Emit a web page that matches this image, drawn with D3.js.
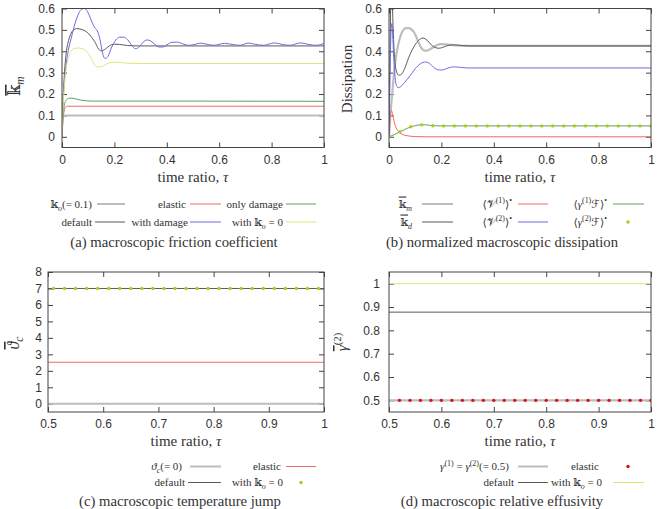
<!DOCTYPE html>
<html><head><meta charset="utf-8">
<script src="https://cdn.jsdelivr.net/npm/d3@7"></script>
<style>body{margin:0;background:#fff}svg{display:block}</style>
</head><body>
<svg id="c" width="658" height="509"></svg>
<script>
// ---------- data ----------
// (a) macroscopic friction coefficient : [time ratio, value]
const aKo = [[0,0.1],[1,0.1]];
const aElastic = [[0,0],[0.004,0.08],[0.008,0.12],[0.013,0.138],[0.02,0.143],[0.05,0.143],[1,0.143]];
const aOnlyDamage = [[0,0],[0.004,0.09],[0.008,0.14],[0.015,0.17],[0.025,0.18],[0.035,0.181],[0.05,0.178],[0.07,0.172],[0.09,0.169],[0.12,0.167],[0.5,0.167],[1,0.166]];
const aDefault = [[0,0],[0.004,0.16],[0.008,0.27],[0.015,0.38],[0.025,0.45],[0.035,0.485],[0.045,0.5],[0.055,0.506],[0.065,0.505],[0.08,0.5],[0.095,0.49],[0.11,0.47],[0.125,0.445],[0.14,0.41],[0.15,0.402],[0.165,0.41],[0.18,0.425],[0.2,0.433],[0.22,0.432],[0.25,0.427],[0.3,0.425],[1,0.425]];
const aWithDamage = [[0,0],[0.004,0.15],[0.008,0.24],[0.015,0.33],[0.025,0.41],[0.035,0.46],[0.045,0.51],[0.055,0.55],[0.065,0.58],[0.075,0.597],[0.085,0.6],[0.095,0.59],[0.105,0.565],[0.115,0.535],[0.125,0.51],[0.135,0.495],[0.145,0.455],[0.155,0.39],[0.165,0.366],[0.175,0.375],[0.19,0.42],[0.205,0.452],[0.22,0.466],[0.235,0.466],[0.25,0.455],[0.265,0.43],[0.28,0.412],[0.295,0.42],[0.31,0.443],[0.325,0.453],[0.34,0.447],[0.355,0.432],[0.37,0.42],[0.385,0.42],[0.4,0.43],[0.42,0.442],[0.44,0.443],[0.46,0.435],[0.48,0.428],[0.5,0.43],[0.53,0.438],[0.56,0.431],[0.58,0.428],[0.62,0.437],[0.66,0.43],[0.68,0.428],[0.71,0.438],[0.75,0.43],[0.77,0.428],[0.81,0.439],[0.85,0.43],[0.87,0.428],[0.91,0.439],[0.95,0.43],[0.97,0.428],[1,0.436]];
const aNoKo = [[0,0],[0.004,0.13],[0.008,0.22],[0.015,0.31],[0.025,0.37],[0.035,0.4],[0.045,0.412],[0.06,0.415],[0.075,0.413],[0.09,0.405],[0.105,0.38],[0.12,0.345],[0.135,0.327],[0.15,0.328],[0.17,0.34],[0.19,0.348],[0.21,0.349],[0.24,0.345],[0.3,0.343],[1,0.343]];

// (b) normalized macroscopic dissipation
const bKm = [[0,0],[0.005,0.1],[0.01,0.17],[0.017,0.27],[0.025,0.36],[0.035,0.43],[0.045,0.475],[0.055,0.5],[0.065,0.508],[0.075,0.508],[0.085,0.503],[0.095,0.49],[0.105,0.465],[0.115,0.435],[0.125,0.412],[0.135,0.403],[0.145,0.403],[0.16,0.412],[0.18,0.427],[0.2,0.433],[0.22,0.432],[0.25,0.427],[0.3,0.425],[1,0.425]];
const bKd = [[0,0],[0.004,0.4],[0.008,0.7],[0.012,0.65],[0.016,0.5],[0.022,0.36],[0.03,0.3],[0.037,0.288],[0.045,0.29],[0.06,0.32],[0.075,0.37],[0.09,0.41],[0.105,0.44],[0.12,0.458],[0.13,0.462],[0.145,0.452],[0.16,0.432],[0.175,0.418],[0.19,0.414],[0.205,0.418],[0.225,0.427],[0.25,0.43],[0.27,0.428],[0.3,0.425],[1,0.425]];
const bV1 = [[0,0],[0.003,0.06],[0.006,0.11],[0.009,0.123],[0.012,0.115],[0.016,0.09],[0.022,0.06],[0.03,0.035],[0.04,0.02],[0.05,0.012],[0.065,0.006],[0.08,0.003],[0.1,0.001],[0.15,0],[1,0]];
const bV2 = [[0,0],[0.004,0.3],[0.008,0.5],[0.011,0.53],[0.014,0.48],[0.018,0.37],[0.024,0.27],[0.03,0.235],[0.037,0.23],[0.045,0.235],[0.06,0.255],[0.08,0.285],[0.1,0.318],[0.12,0.342],[0.14,0.35],[0.155,0.343],[0.17,0.325],[0.185,0.314],[0.2,0.312],[0.215,0.317],[0.235,0.325],[0.25,0.327],[0.27,0.325],[0.3,0.322],[1,0.322]];
const bG1F = [[0,0],[0.02,0.01],[0.04,0.022],[0.06,0.034],[0.08,0.045],[0.1,0.052],[0.12,0.056],[0.14,0.056],[0.16,0.053],[0.2,0.051],[0.3,0.051],[1,0.051]];
const bDotTime = [0,0.042,0.083,0.125,0.167,0.208,0.25,0.292,0.333,0.375,0.417,0.458,0.5,0.542,0.583,0.625,0.667,0.708,0.75,0.792,0.833,0.875,0.917,0.958,1];
const bG2F = [0,0.024,0.047,0.056,0.052,0.051,0.051,0.051,0.051,0.051,0.051,0.051,0.051,0.051,0.051,0.051,0.051,0.051,0.051,0.051,0.051,0.051,0.051,0.051,0.051];

// (c) macroscopic temperature jump
const cTheta0 = [[0.5,0],[1,0]];
const cElastic = [[0.5,2.52],[1,2.52]];
const cDefault = [[0.5,7.0],[1,7.0]];
const cDotTime = [0.51,0.53,0.55,0.57,0.59,0.61,0.63,0.65,0.67,0.69,0.71,0.73,0.75,0.77,0.79,0.81,0.83,0.85,0.87,0.89,0.91,0.93,0.95,0.97,0.99];
const cNoKo = [7,7,7,7,7,7,7,7,7,7,7,7,7,7,7,7,7,7,7,7,7,7,7,7,7];

// (d) macroscopic relative effusivity
const dGammaHalf = [[0.5,0.5],[1,0.5]];
const dDefault = [[0.5,0.878],[1,0.878]];
const dNoKo = [[0.5,1.0],[1,1.0]];
const dDotTime = [0.52,0.54,0.56,0.58,0.6,0.62,0.64,0.66,0.68,0.7,0.72,0.74,0.76,0.78,0.8,0.82,0.84,0.86,0.88,0.9,0.92,0.94,0.96,0.98,1.0];
const dElastic = [0.5,0.5,0.5,0.5,0.5,0.5,0.5,0.5,0.5,0.5,0.5,0.5,0.5,0.5,0.5,0.5,0.5,0.5,0.5,0.5,0.5,0.5,0.5,0.5,0.5];

// ticks
const abXTicks = [0,0.2,0.4,0.6,0.8,1];
const abYTicks = [0,0.1,0.2,0.3,0.4,0.5,0.6];
const cdXTicks = [0.5,0.6,0.7,0.8,0.9,1];
const cYTicks = [0,1,2,3,4,5,6,7,8];
const dYTicks = [0.5,0.6,0.7,0.8,0.9,1];

// ---------- style ----------
const C = {light:"#bdbdbd", dark:"#5a5a5a", red:"#ee6a6a", green:"#5f9f5f", blue:"#6b6be0", yellow:"#e2e27a", ygDot:"#b4c61a", redDot:"#e01010"};
const SANS = "'Liberation Sans', Arial, sans-serif";
const SERIF = "'Liberation Serif', 'DejaVu Serif', 'DejaVu Sans', serif";
const svg = d3.select("#c");

function drawPanel(p) {
  const x = d3.scaleLinear().domain(p.xd).range([p.l, p.r]);
  const y = d3.scaleLinear().domain(p.yd).range([p.b, p.t]);
  const g = svg.append("g");
  const id = "clip" + p.name;
  svg.append("clipPath").attr("id", id).append("rect")
    .attr("x", p.l).attr("y", p.t).attr("width", p.r - p.l).attr("height", p.b - p.t);
  const fmt = d3.format("~g");
  const mk = (axis, tr, lab, pad) => {
    const a = g.append("g").attr("transform", tr)
      .call(axis.tickSizeInner(-5).tickSizeOuter(0).tickPadding(pad).tickFormat(lab ? fmt : ""));
    a.select(".domain").remove();
    a.selectAll("line").attr("stroke", "#444");
    a.attr("font-family", SANS).attr("font-size", 12);
    a.selectAll("text").attr("fill", "#333");
  };
  mk(d3.axisBottom(x).tickValues(p.xt), `translate(0,${p.b})`, true, 7.5);
  mk(d3.axisTop(x).tickValues(p.xt), `translate(0,${p.t})`, false, 0);
  mk(d3.axisLeft(y).tickValues(p.yt), `translate(${p.l},0)`, true, p.ypad);
  mk(d3.axisRight(y).tickValues(p.yt), `translate(${p.r},0)`, false, 0);

  const lg = g.append("g").attr("clip-path", `url(#${id})`);
  const line = d3.line().x(d => x(d[0])).y(d => y(d[1])).curve(d3.curveMonotoneX);
  p.lines.forEach(s => lg.append("path").datum(s.data).attr("d", line)
    .attr("fill", "none").attr("stroke", s.color).attr("stroke-width", s.w).attr("stroke-linejoin", "round"));
  p.dots.forEach(s => lg.selectAll(null).data(s.t.map((t, i) => [t, s.v[i]])).enter().append("circle")
    .attr("cx", d => x(d[0])).attr("cy", d => y(d[1])).attr("r", 1.7).attr("fill", s.color));
  g.append("rect").attr("x", p.l).attr("y", p.t).attr("width", p.r - p.l).attr("height", p.b - p.t)
    .attr("fill", "none").attr("stroke", "#444").attr("stroke-width", 1);
}

// rich text helper: parts = [{s, i, sub, sup, ol}]
function rich(text, parts, size) {
  let shift = 0;
  parts.forEach(p => {
    const ts = text.append("tspan").text(p.s);
    let target = 0, fs = size;
    if (p.sub) { target = size * 0.28; fs = size * 0.72; }
    if (p.sup) { target = -size * 0.38; fs = size * 0.72; }
    if (target - shift !== 0) ts.attr("dy", target - shift);
    shift = target;
    ts.attr("font-size", fs);
    if (p.i) ts.attr("font-style", "italic");
    if (p.ol) ts.attr("text-decoration", "overline");
  });
  return text;
}
function label(x, y, parts, size, anchor, rot) {
  const t = svg.append("text").attr("font-family", SERIF).attr("fill", "#333")
    .attr("text-anchor", anchor || "middle").attr("font-size", size);
  if (rot) t.attr("transform", `translate(${x},${y}) rotate(-90)`);
  else t.attr("x", x).attr("y", y);
  return rich(t, typeof parts === "string" ? [{s: parts}] : parts, size);
}
function keyLine(x1, x2, yy, color, w) {
  svg.append("line").attr("x1", x1).attr("x2", x2).attr("y1", yy).attr("y2", yy)
    .attr("stroke", color).attr("stroke-width", w);
}
function keyDot(cx, cy, color) {
  svg.append("circle").attr("cx", cx).attr("cy", cy).attr("r", 1.7).attr("fill", color);
}

// ---------- panels ----------
drawPanel({name:"a", l:62, r:324, t:8.5, b:147.5, xd:[0,1], yd:[-0.05,0.6], xt:abXTicks, yt:abYTicks, ypad:7,
  lines:[{data:aKo,color:C.light,w:2},{data:aElastic,color:C.red,w:1},{data:aOnlyDamage,color:C.green,w:1},
         {data:aDefault,color:C.dark,w:1},{data:aWithDamage,color:C.blue,w:1},{data:aNoKo,color:C.yellow,w:1}], dots:[]});
drawPanel({name:"b", l:389, r:651, t:8.5, b:147.5, xd:[0,1], yd:[-0.05,0.6], xt:abXTicks, yt:abYTicks, ypad:7,
  lines:[{data:bKm,color:C.light,w:2.2},{data:bKd,color:C.dark,w:1},{data:bV1,color:C.red,w:1},
         {data:bV2,color:C.blue,w:1},{data:bG1F,color:C.green,w:1}], dots:[{t:bDotTime,v:bG2F,color:C.ygDot}]});
drawPanel({name:"c", l:48, r:324, t:272, b:412, xd:[0.5,1], yd:[-0.5,8], xt:cdXTicks, yt:cYTicks, ypad:6,
  lines:[{data:cTheta0,color:C.light,w:2.2},{data:cElastic,color:C.red,w:1},{data:cDefault,color:C.dark,w:1}],
  dots:[{t:cDotTime,v:cNoKo,color:C.ygDot}]});
drawPanel({name:"d", l:389, r:651, t:272, b:412, xd:[0.5,1], yd:[0.45,1.05], xt:cdXTicks, yt:dYTicks, ypad:9,
  lines:[{data:dGammaHalf,color:C.light,w:2.2},{data:dDefault,color:C.dark,w:1},{data:dNoKo,color:C.yellow,w:1}],
  dots:[{t:dDotTime,v:dElastic,color:C.redDot}]});

// ---------- axis titles ----------
const tau = [{s:"time ratio, "},{s:"τ",i:true}];
label(193, 182, tau, 15);
label(520, 182, tau, 15);
label(186, 446, tau, 15);
label(520, 446, tau, 15);
label(20, 86, [{s:"𝕜",ol:true},{s:"m",i:true,sub:true}], 16, "middle", true);
label(352, 79, "Dissipation", 15, "middle", true);
label(19, 343, [{s:"ϑ",i:true,ol:true},{s:"c",i:true,sub:true}], 16, "middle", true);
label(347, 342, [{s:"γ",i:true,ol:true},{s:"(2)",sup:true}], 15, "middle", true);

// ---------- legends ----------
const LS = 11;
const kO = [{s:"𝕜"},{s:"o",i:true,sub:true}];
// (a)
label(92, 207.5, [...kO, {s:"(= 0.1)"}], LS, "end"); keyLine(97,125,204,C.light,2);
label(186, 207.5, "elastic", LS, "end"); keyLine(190,221,204,C.red,1);
label(283, 207.5, "only damage", LS, "end"); keyLine(286,316,204,C.green,1);
label(92, 225.5, "default", LS, "end"); keyLine(95,125,222,C.dark,1);
label(188, 225.5, "with damage", LS, "end"); keyLine(190,221,222,C.blue,1);
label(283, 225.5, [{s:"with "},...kO,{s:" = 0"}], LS, "end"); keyLine(286,316,222,C.yellow,1);
label(174, 247, "(a) macroscopic friction coefficient", 14.7);
// (b)
label(412, 207.5, [{s:"𝕜",ol:true},{s:"m",i:true,sub:true}], LS, "end"); keyLine(422,453,204,C.light,2);
label(512, 207.5, [{s:"⟨𝒱"},{s:"(1)",sup:true},{s:"⟩"},{s:"•",sup:true}], LS, "end"); keyLine(518,548,204,C.red,1);
label(607, 207.5, [{s:"⟨"},{s:"γ",i:true},{s:"(1)",sup:true},{s:"ℱ⟩"},{s:"•",sup:true}], LS, "end"); keyLine(613,644,204,C.green,1);
label(412, 225.5, [{s:"𝕜",ol:true},{s:"d",i:true,sub:true}], LS, "end"); keyLine(422,453,222,C.dark,1);
label(512, 225.5, [{s:"⟨𝒱"},{s:"(2)",sup:true},{s:"⟩"},{s:"•",sup:true}], LS, "end"); keyLine(518,548,222,C.blue,1);
label(607, 225.5, [{s:"⟨"},{s:"γ",i:true},{s:"(2)",sup:true},{s:"ℱ⟩"},{s:"•",sup:true}], LS, "end"); keyDot(628,222,C.ygDot);
label(502, 247, "(b) normalized macroscopic dissipation", 14.7);
// (c)
label(182, 470, [{s:"ϑ",i:true},{s:"c",i:true,sub:true},{s:"(= 0)"}], LS, "end"); keyLine(190,221,466.5,C.light,2);
label(281, 470, "elastic", LS, "end"); keyLine(286,316,466.5,C.red,1);
label(185, 486, "default", LS, "end"); keyLine(188,221,482.5,C.dark,1);
label(283, 486, [{s:"with "},...kO,{s:" = 0"}], LS, "end"); keyDot(301,482.5,C.ygDot);
label(180, 505.5, "(c) macroscopic temperature jump", 14.7);
// (d)
label(509, 470, [{s:"γ",i:true},{s:"(1)",sup:true},{s:" = "},{s:"γ",i:true},{s:"(2)",sup:true},{s:"(= 0.5)"}], LS, "end"); keyLine(518,548,466.5,C.light,2);
label(599, 470, "elastic", LS, "end"); keyDot(628,466.5,C.redDot);
label(514, 486, "default", LS, "end"); keyLine(518,548,482.5,C.dark,1);
label(602, 486, [{s:"with "},...kO,{s:" = 0"}], LS, "end"); keyLine(613,644,482.5,C.yellow,1);
label(502, 505.5, "(d) macroscopic relative effusivity", 14.7);
</script>
</body></html>
